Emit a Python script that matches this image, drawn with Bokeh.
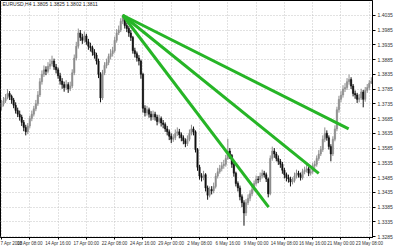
from bokeh.plotting import figure
from bokeh.models import Range1d, FixedTicker, PrintfTickFormatter, Label
from bokeh.embed import file_html
from bokeh.resources import INLINE

# EURUSD H4 candles, prices in units of 0.0001
first_open = 13725
closes = [
    13734, 13745, 13755, 13770, 13760, 13748, 13730, 13712, 13700, 13690,
    13672, 13655, 13640, 13660, 13685, 13700, 13718, 13735, 13765, 13810,
    13835, 13850, 13845, 13862, 13870, 13880, 13860, 13850, 13830, 13812,
    13800, 13790, 13800, 13785, 13795, 13840, 13890, 13930, 13975, 13960,
    13950, 13965, 13945, 13930, 13925, 13910, 13900, 13880, 13835, 13755,
    13840, 13865, 13875, 13895, 13905, 13915, 13950, 13975, 13985, 14015,
    14030, 14000, 13990, 13975, 13960, 13915, 13905, 13890, 13880, 13835,
    13720, 13705, 13715, 13700, 13690, 13700, 13690, 13675, 13685, 13670,
    13665, 13650, 13640, 13625, 13615, 13620, 13635, 13640, 13630, 13620,
    13610, 13600, 13615, 13635, 13650, 13640, 13580, 13520, 13490, 13485,
    13495, 13450, 13425, 13445, 13440, 13455, 13490, 13505, 13515, 13525,
    13530, 13550, 13575, 13560, 13530, 13500, 13465, 13450, 13420, 13400,
    13365, 13400, 13415, 13430, 13445, 13465, 13480, 13478, 13490, 13500,
    13495, 13480, 13430, 13550, 13575, 13565, 13550, 13540, 13530, 13510,
    13495, 13485, 13480, 13470, 13475, 13490, 13500, 13495, 13485, 13505,
    13510, 13515, 13500, 13505, 13525, 13530, 13550, 13565, 13580, 13615,
    13635, 13620, 13590, 13565, 13615, 13650, 13715, 13750, 13765, 13785,
    13790, 13810, 13817, 13795, 13770, 13765, 13750, 13755, 13775, 13750,
    13780, 13790, 13805, 13811,
]
highs = [
    13748, 13758, 13768, 13785, 13778, 13766, 13755, 13740, 13722, 13712,
    13698, 13680, 13664, 13670, 13695, 13712, 13728, 13748, 13778, 13822,
    13848, 13865, 13862, 13876, 13886, 13898, 13888, 13870, 13858, 13840,
    13822, 13810, 13815, 13808, 13810, 13852, 13902, 13945, 13990, 13985,
    13972, 13980, 13972, 13955, 13942, 13932, 13920, 13908, 13888, 13842,
    13850, 13876, 13888, 13905, 13920, 13928, 13962, 13988, 14000, 14025,
    14038, 14035, 14010, 13998, 13985, 13965, 13925, 13912, 13900, 13885,
    13840, 13730, 13728, 13722, 13710, 13712, 13708, 13698, 13698, 13692,
    13680, 13672, 13660, 13648, 13635, 13632, 13648, 13655, 13650, 13638,
    13628, 13618, 13628, 13648, 13664, 13658, 13645, 13585, 13528, 13500,
    13508, 13500, 13458, 13455, 13456, 13468, 13500, 13518, 13528, 13538,
    13545, 13562, 13616, 13585, 13565, 13538, 13505, 13472, 13458, 13428,
    13408, 13412, 13428, 13442, 13458, 13475, 13492, 13490, 13502, 13512,
    13508, 13502, 13485, 13560, 13590, 13585, 13572, 13560, 13548, 13538,
    13518, 13502, 13495, 13488, 13486, 13502, 13512, 13508, 13502, 13515,
    13522, 13528, 13522, 13515, 13535, 13542, 13560, 13578, 13592, 13628,
    13655, 13645, 13628, 13598, 13625, 13662, 13725, 13762, 13778, 13798,
    13805, 13822, 13834, 13825, 13802, 13780, 13772, 13768, 13786, 13782,
    13792, 13802, 13815, 13825,
]
lows = [
    13712, 13726, 13738, 13750, 13748, 13735, 13720, 13702, 13690, 13678,
    13660, 13642, 13628, 13632, 13652, 13676, 13692, 13710, 13728, 13758,
    13800, 13826, 13832, 13838, 13852, 13862, 13850, 13838, 13820, 13800,
    13786, 13776, 13782, 13772, 13778, 13788, 13832, 13882, 13922, 13948,
    13938, 13942, 13935, 13918, 13912, 13898, 13888, 13868, 13822, 13740,
    13748, 13832, 13855, 13866, 13885, 13895, 13908, 13942, 13968, 13978,
    14005, 13990, 13978, 13962, 13948, 13905, 13892, 13878, 13865, 13820,
    13705, 13692, 13695, 13688, 13678, 13680, 13678, 13662, 13668, 13658,
    13652, 13640, 13628, 13612, 13602, 13606, 13612, 13626, 13618, 13608,
    13598, 13588, 13592, 13608, 13628, 13628, 13570, 13508, 13478, 13472,
    13476, 13438, 13410, 13418, 13428, 13432, 13448, 13482, 13498, 13506,
    13515, 13522, 13545, 13548, 13518, 13488, 13455, 13438, 13408, 13385,
    13322, 13355, 13392, 13405, 13422, 13438, 13458, 13466, 13470, 13482,
    13485, 13470, 13418, 13425, 13542, 13552, 13540, 13528, 13518, 13498,
    13482, 13472, 13468, 13455, 13462, 13468, 13482, 13485, 13475, 13478,
    13496, 13502, 13490, 13492, 13498, 13515, 13522, 13542, 13558, 13572,
    13605, 13610, 13580, 13540, 13558, 13608, 13642, 13705, 13740, 13756,
    13775, 13782, 13800, 13785, 13760, 13752, 13738, 13740, 13748, 13723,
    13742, 13772, 13782, 13802,
]

x_tick_bars = [0, 14, 28, 42, 56, 70, 84, 98, 112, 126, 140, 154, 168, 182]
x_tick_labels = ["7 Apr 2008", "10 Apr 08:00", "14 Apr 16:00", "17 Apr 00:00",
                 "22 Apr 08:00", "24 Apr 16:00", "29 Apr 00:00", "2 May 08:00",
                 "6 May 16:00", "9 May 00:00", "14 May 08:00", "16 May 16:00",
                 "21 May 00:00", "23 May 08:00"]
price_ticks = [1.4035, 1.3985, 1.3935, 1.3885, 1.3835, 1.3785, 1.3735, 1.3685,
               1.3635, 1.3585, 1.3535, 1.3485, 1.3435, 1.3385, 1.3335, 1.3285]

# Fan lines drawn from the top (bar index, price)
fan_start_x = 60
fan_start_y = 1.4035
fan_end_x = [171.8, 157.0, 132.2]
fan_end_y = [1.3650, 1.3499, 1.3385]

header = "EURUSD,H4  1.3805 1.3825 1.3802 1.3811"

n = len(closes)
xs = list(range(n))
opens = [first_open] + closes[:-1]
o = [v / 10000 for v in opens]
c = [v / 10000 for v in closes]
h = [v / 10000 for v in highs]
l = [v / 10000 for v in lows]
up = [ci >= oi for oi, ci in zip(o, c)]
cols = ["#8e8e8e" if u else "#111111" for u in up]
top = [max(a, b) for a, b in zip(o, c)]
bot = [min(a, b) for a, b in zip(o, c)]

FONT = "Liberation Sans"

p = figure(width=400, height=248, output_backend="svg", toolbar_location=None,
           x_range=Range1d(-0.5, 183.6), y_range=Range1d(1.3282, 1.4085),
           y_axis_location="right", min_border_left=0, min_border_top=0,
           min_border_right=28, min_border_bottom=9)
p.background_fill_color = "white"
p.border_fill_color = "white"
p.outline_line_color = "black"
p.outline_line_width = 1

p.segment(x0=xs, y0=h, x1=xs, y1=l, line_color=cols, line_width=1)
p.vbar(x=xs, width=0.7, top=top, bottom=bot, fill_color=cols, line_color=cols, line_width=0.5)

p.segment(x0=[fan_start_x] * len(fan_end_x), y0=[fan_start_y] * len(fan_end_x),
          x1=fan_end_x, y1=fan_end_y, line_color="#26b526", line_width=3)

# axes
yax = p.yaxis[0]
yax.ticker = FixedTicker(ticks=price_ticks)
yax.formatter = PrintfTickFormatter(format="%.4f")
yax.major_label_text_font = FONT
yax.major_label_text_font_size = "5px"
yax.major_label_text_color = "#333333"
yax.major_tick_out = 3
yax.major_tick_in = 0
yax.minor_tick_out = 0
yax.minor_tick_in = 0
yax.major_label_standoff = 2
yax.axis_line_color = "black"
yax.major_tick_line_color = "black"

xax = p.xaxis[0]
xax.ticker = FixedTicker(ticks=x_tick_bars)
xax.major_label_overrides = {b: t for b, t in zip(x_tick_bars, x_tick_labels)}
xax.major_label_text_align = "left"
xax.major_label_text_font = FONT
xax.major_label_text_font_size = "4.5px"
xax.major_label_text_color = "#333333"
xax.major_tick_out = 2
xax.major_tick_in = 0
xax.minor_tick_out = 0
xax.minor_tick_in = 0
xax.major_label_standoff = 1
xax.axis_line_color = "black"
xax.major_tick_line_color = "black"

for g in (p.xgrid[0], p.ygrid[0]):
    g.grid_line_color = "#c4c4c4"
    g.grid_line_dash = "1 2"
    g.grid_line_width = 1

p.add_layout(Label(x=0.5, y=1.4083, text=header, text_font=FONT,
                   text_font_size="5px", text_color="#222222", text_baseline="top"))

open("out.html", "w").write(file_html(p, INLINE))
